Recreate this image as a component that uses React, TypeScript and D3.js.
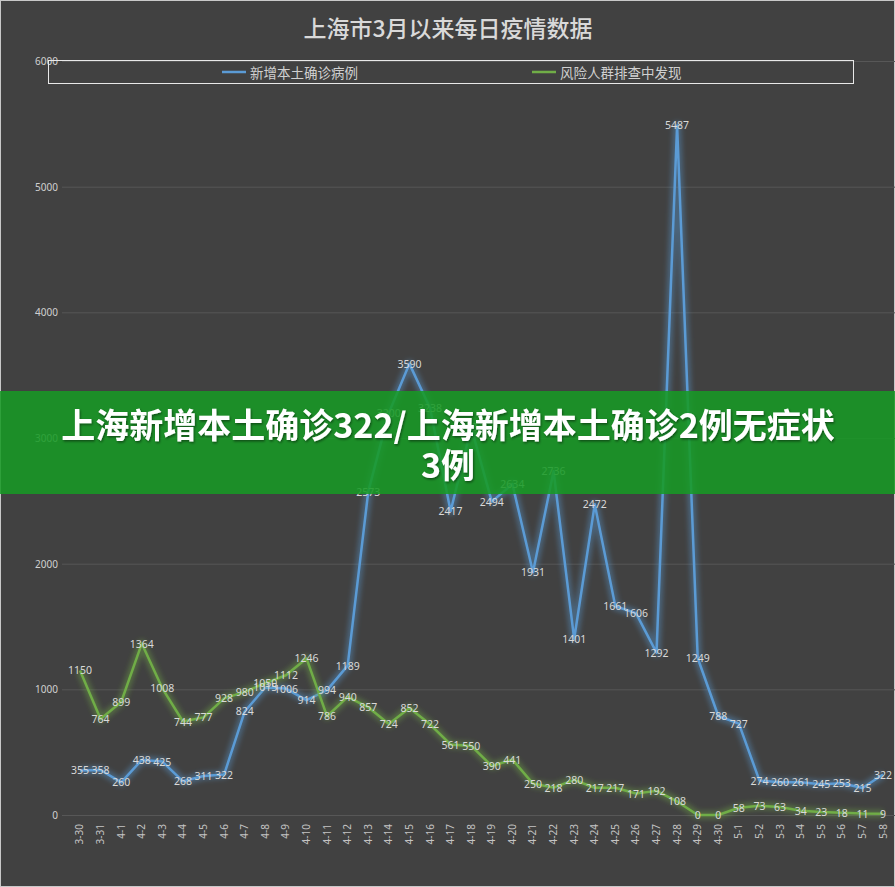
import React from "react";
import * as d3 from "d3";

const dates = [
  "3-30", "3-31", "4-1", "4-2", "4-3", "4-4", "4-5", "4-6", "4-7", "4-8",
  "4-9", "4-10", "4-11", "4-12", "4-13", "4-14", "4-15", "4-16", "4-17", "4-18",
  "4-19", "4-20", "4-21", "4-22", "4-23", "4-24", "4-25", "4-26", "4-27", "4-28",
  "4-29", "4-30", "5-1", "5-2", "5-3", "5-4", "5-5", "5-6", "5-7", "5-8",
];

// 新增本土确诊病例
const confirmed = [
  355, 358, 260, 438, 425, 268, 311, 322, 824, 1015,
  1006, 914, 994, 1189, 2573, 3200, 3590, 3238, 2417, 3084,
  2494, 2634, 1931, 2736, 1401, 2472, 1661, 1606, 1292, 5487,
  1249, 788, 727, 274, 260, 261, 245, 253, 215, 322,
];

// 风险人群排查中发现
const screened = [
  1150, 764, 899, 1364, 1008, 744, 777, 928, 980, 1050,
  1112, 1246, 786, 940, 857, 724, 852, 722, 561, 550,
  390, 441, 250, 218, 280, 217, 217, 171, 192, 108,
  0, 0, 58, 73, 63, 34, 23, 18, 11, 9,
];

const yTicks = [0, 1000, 2000, 3000, 4000, 5000, 6000];

const seriesNames = ["新增本土确诊病例", "风险人群排查中发现"];
const seriesColors = ["#5b9bd5", "#70ad47"];

const W = 895, H = 887;
const numFont = "'Noto Sans', 'DejaVu Sans', sans-serif";
const cjkFont = "'Noto Sans CJK SC', sans-serif";

export default function App() {
  const x = d3.scaleBand().domain(dates).range([69.7, 893.3]);
  const cx = (d: string) => (x(d) as number) + x.bandwidth() / 2;
  const y = d3.scaleLinear().domain([0, 6000]).range([815, 61]);

  const line = d3.line<number>()
    .x((_, i) => cx(dates[i]))
    .y((v) => y(v));

  const allSeries = [confirmed, screened];

  return (
    <svg width={W} height={H} style={{ position: "absolute", left: 0, top: 0, display: "block" }}>
      <defs>
        <filter id="glow" filterUnits="userSpaceOnUse" x="0" y="0" width={W} height={H}>
          <feGaussianBlur stdDeviation="2.6" />
        </filter>
        <filter id="tshadow" filterUnits="userSpaceOnUse" x="0" y="0" width={W} height={H}>
          <feDropShadow dx="1" dy="1.5" stdDeviation="1.2" floodColor="#000" floodOpacity="0.45" />
        </filter>
      </defs>
      <rect x={0} y={0} width={W} height={H} fill="#414141" />
      <rect x={0.5} y={0.5} width={W - 1} height={H - 1} fill="none" stroke="#c8c8c8" strokeWidth={1} />

      <text x={448} y={27} textAnchor="middle" dominantBaseline="central"
        fontFamily={cjkFont} fontSize={23} fontWeight={500} fill="#d9d9d9">
        上海市3月以来每日疫情数据
      </text>

      {yTicks.map((t) => (
        <g key={t}>
          <line x1={62} x2={W} y1={y(t) + 0.5} y2={y(t) + 0.5} stroke="#575757" strokeWidth={1} />
          <text x={58} y={y(t)} textAnchor="end" dominantBaseline="central"
            fontFamily={numFont} fontSize={10} fill="#d0d0d0">{t}</text>
        </g>
      ))}

      {/* legend */}
      <rect x={48.5} y={60.5} width={805} height={23} fill="none" stroke="#e8e8e8" strokeWidth={1} />
      {seriesNames.map((n, i) => {
        const lx = i === 0 ? 222 : 532;
        return (
          <g key={n}>
            <line x1={lx} x2={lx + 24} y1={72} y2={72} stroke={seriesColors[i]} strokeWidth={2.5} />
            <text x={lx + 28} y={72} dominantBaseline="central" fontFamily={cjkFont}
              fontSize={13.5} fill="#d0d0d0">{n}</text>
          </g>
        );
      })}

      {/* x axis labels */}
      {dates.map((d) => (
        <text key={d} transform={`translate(${cx(d) + 3.5},824) rotate(-90)`} textAnchor="end"
          fontFamily={numFont} fontSize={10} fill="#c4c4c4">{d}</text>
      ))}

      {/* lines with glow */}
      {allSeries.map((s, i) => (
        <g key={i}>
          <path d={line(s) || ""} fill="none" stroke={seriesColors[i]} strokeWidth={8}
            strokeOpacity={0.4} strokeLinejoin="round" filter="url(#glow)" />
          <path d={line(s) || ""} fill="none" stroke={seriesColors[i]} strokeWidth={2.5}
            strokeLinejoin="round" />
        </g>
      ))}

      {/* data labels */}
      {allSeries.map((s, i) => (
        <g key={"l" + i}>
          {s.map((v, j) => (
            <text key={j} x={cx(dates[j])} y={y(v)} textAnchor="middle" dominantBaseline="central"
              fontFamily={numFont} fontSize={10.5} fill="#d9d9d9">{v}</text>
          ))}
        </g>
      ))}

      {/* overlay banner */}
      <rect x={0} y={391} width={W} height={103} fill="#179a25" fillOpacity={0.87} />
      <g filter="url(#tshadow)" fontFamily={cjkFont} fontSize={34} fontWeight={700} fill="#ffffff" textAnchor="middle">
        <text x={448} y={423} dominantBaseline="central">上海新增本土确诊322/上海新增本土确诊2例无症状</text>
        <text x={448} y={463} dominantBaseline="central">3例</text>
      </g>
    </svg>
  );
}
